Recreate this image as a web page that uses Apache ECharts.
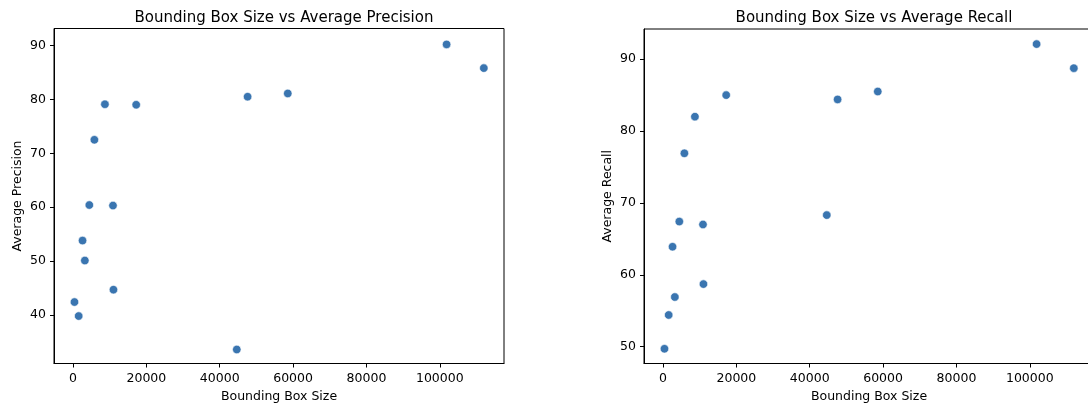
<!DOCTYPE html>
<html>
<head>
<meta charset="utf-8">
<script src="https://cdn.jsdelivr.net/npm/echarts@6/dist/echarts.min.js"></script>
<style>
  html, body { margin: 0; padding: 0; background: #fff; }
  #chart { width: 1088px; height: 405px; }
</style>
</head>
<body>
<div id="chart"></div>
<script>
// data (same box sizes for both panels)
const boxSizes = [400, 1550, 2600, 3230, 4450, 5830, 8700, 10900, 11030, 17230, 44650, 47600, 58550, 101850, 112000];
const avgPrecision = [42.4, 39.8, 53.8, 50.1, 60.4, 72.5, 79.1, 60.3, 44.7, 79.0, 33.6, 80.5, 81.1, 90.2, 85.8];
const avgRecall = [49.7, 54.4, 63.9, 56.9, 67.4, 76.9, 82.0, 67.0, 58.7, 85.0, 68.3, 84.4, 85.5, 92.1, 88.75];
const xTicks = [0, 20000, 40000, 60000, 80000, 100000];
const precisionTicks = [40, 50, 60, 70, 80, 90];
const recallTicks = [50, 60, 70, 80, 90];

const font = 'DejaVu Sans';
const ink = '#000';

function xAxisFor(gridIndex) {
  return {
    type: 'value',
    gridIndex: gridIndex,
    min: -5180,
    max: 117500,
    name: 'Bounding Box Size',
    nameLocation: 'middle',
    nameGap: 27,
    nameTextStyle: { fontFamily: font, fontSize: 12.5, color: ink },
    axisLine: { show: true, onZero: false, lineStyle: { color: ink, width: 1 } },
    axisTick: { show: true, length: 4, customValues: xTicks, lineStyle: { color: ink, width: 1 } },
    axisLabel: {
      customValues: xTicks,
      margin: 9,
      fontFamily: font, fontSize: 12.5, color: ink,
      formatter: function (v) { return String(v); }
    },
    splitLine: { show: false }
  };
}

function yAxisFor(gridIndex, name, min, max, ticks) {
  return {
    type: 'value',
    gridIndex: gridIndex,
    min: min,
    max: max,
    name: name,
    nameLocation: 'middle',
    nameGap: 30,
    nameTextStyle: { fontFamily: font, fontSize: 12.5, color: ink },
    axisLine: { show: true, onZero: false, lineStyle: { color: ink, width: 1 } },
    axisTick: { show: true, length: 4, customValues: ticks, lineStyle: { color: ink, width: 1 } },
    axisLabel: {
      customValues: ticks,
      margin: 8,
      fontFamily: font, fontSize: 12.5, color: ink,
      formatter: function (v) { return String(v); }
    },
    splitLine: { show: false }
  };
}

function pairs(xs, ys) {
  return xs.map(function (x, i) { return [x, ys[i]]; });
}

const dotStyle = { color: '#3a75b0', borderColor: '#fff', borderWidth: 0.6, opacity: 1 };

let myChart = echarts.init(document.getElementById('chart'), null, { renderer: 'canvas' });
let option = {
  animation: false,
  backgroundColor: '#fff',
  title: [
    {
      text: 'Bounding Box Size vs Average Precision',
      left: 279, top: 6, textAlign: 'center',
      textStyle: { fontFamily: font, fontSize: 15, fontWeight: 'normal', color: ink }
    },
    {
      text: 'Bounding Box Size vs Average Recall',
      left: 869, top: 6, textAlign: 'center',
      textStyle: { fontFamily: font, fontSize: 15, fontWeight: 'normal', color: ink }
    }
  ],
  grid: [
    { left: 54, top: 28.5, width: 450, height: 335, show: true, borderColor: ink, borderWidth: 1,
      containLabel: false, outerBoundsMode: 'none' },
    { left: 644, top: 29, width: 450, height: 334.5, show: true, borderColor: ink, borderWidth: 1,
      containLabel: false, outerBoundsMode: 'none' }
  ],
  xAxis: [xAxisFor(0), xAxisFor(1)],
  yAxis: [
    yAxisFor(0, 'Average Precision', 31.0, 93.15, precisionTicks),
    yAxisFor(1, 'Average Recall', 47.65, 94.2, recallTicks)
  ],
  series: [
    {
      name: 'Average Precision',
      type: 'scatter',
      xAxisIndex: 0, yAxisIndex: 0,
      symbolSize: 8.5,
      itemStyle: dotStyle,
      data: pairs(boxSizes, avgPrecision)
    },
    {
      name: 'Average Recall',
      type: 'scatter',
      xAxisIndex: 1, yAxisIndex: 1,
      symbolSize: 8.5,
      itemStyle: dotStyle,
      data: pairs(boxSizes, avgRecall)
    }
  ]
};
myChart.setOption(option);
</script>
</body>
</html>
